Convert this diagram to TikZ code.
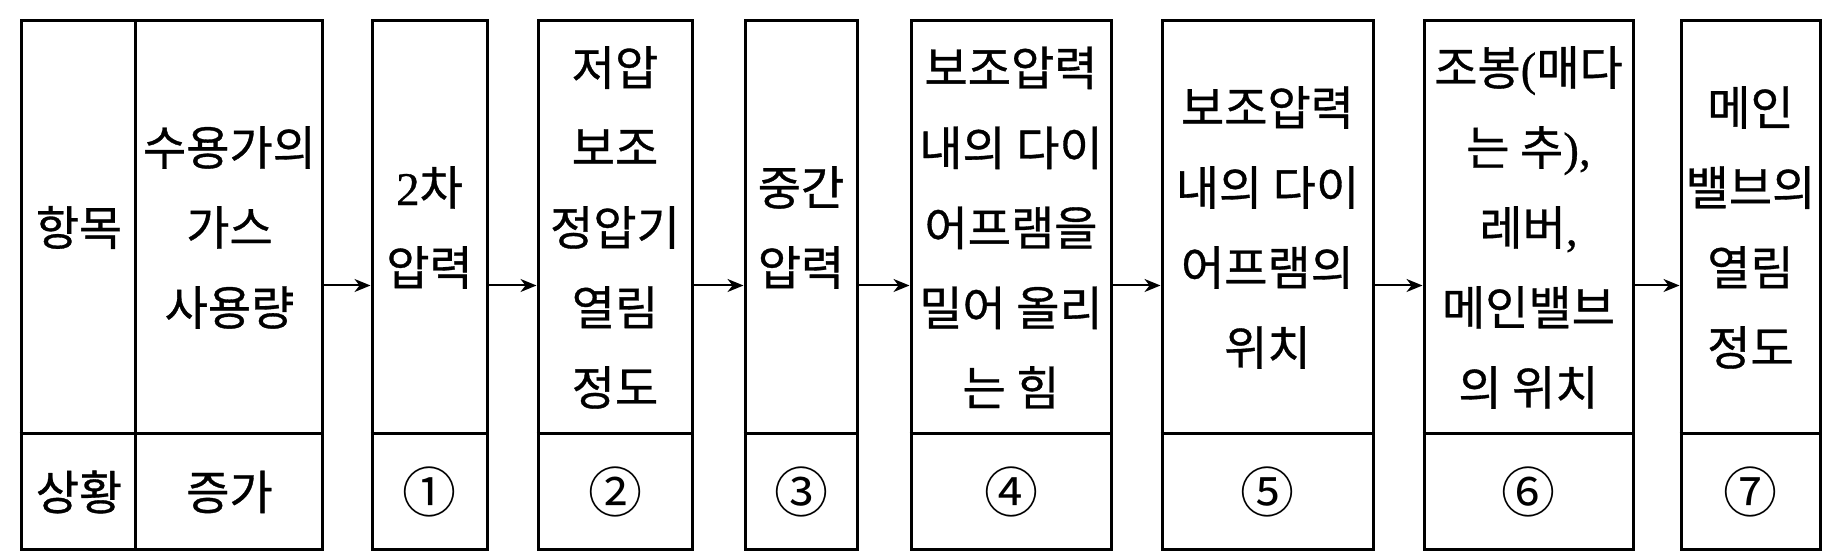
\documentclass[tikz,border=0pt]{standalone}
\usepackage{fontspec}
\setmainfont{Noto Sans CJK KR}[FakeBold=0.7]
\newfontfamily\latn{Liberation Serif}[FakeBold=0.7]
\newfontfamily\numfont{Noto Sans CJK KR}
\usepackage{tikz}
\usetikzlibrary{arrows.meta,positioning,calc}

\begin{document}
\begin{tikzpicture}[x=0.5pt, y=-0.5pt,
    col/.style={draw, line width=1.5pt, minimum height=264.5pt, inner sep=0pt},
    rule/.style={line width=1.5pt},
    txt/.style={font=\fontsize{23.5}{40}\selectfont, align=center, inner sep=0pt},
    num/.style={font=\numfont\fontsize{27}{30}\selectfont, inner sep=0pt},
    flow/.style={line width=1pt, -{Stealth[length=8pt, width=6.5pt, inset=2.5pt]}}]
    \useasboundingbox (0,0) rectangle (1836,560);

    % Table head - 항목 / 상황
    \node[col, minimum width=150.5pt] (c0) at (171.5,285.5) {};
    \draw[rule] (c0.north west) ++(116,0) -- ++(0,529);
    \draw[rule] (c0.west |- 0,434) -- (c0.east |- 0,434);
    \node[txt] (h0) at (79,227.5) {항목};
    \node[txt] (s0) at (79,492) {상황};
    \node[txt] (t0) at (229.5,227.5) {수용가의\\가스\\사용량};
    \node[txt] (n0) at (229.5,492) {증가};

    % Step 1
    \node[col, minimum width=57.5pt] (c1) at (429.5,285.5) {};
    \draw[rule] (c1.west |- 0,434) -- (c1.east |- 0,434);
    \node[txt] (t1) at (429.5,227.5) {{\latn 2}차\\압력};
    \node[num] (n1) at (429.5,492) {①};

    % Step 2
    \node[col, minimum width=77pt] (c2) at (615,285.5) {};
    \draw[rule] (c2.west |- 0,434) -- (c2.east |- 0,434);
    \node[txt] (t2) at (615,227.5) {저압\\보조\\정압기\\열림\\정도};
    \node[num] (n2) at (615,492) {②};

    % Step 3
    \node[col, minimum width=56pt] (c3) at (801,285.5) {};
    \draw[rule] (c3.west |- 0,434) -- (c3.east |- 0,434);
    \node[txt] (t3) at (801,227.5) {중간\\압력};
    \node[num] (n3) at (801,492) {③};

    % Step 4
    \node[col, minimum width=100pt] (c4) at (1011,285.5) {};
    \draw[rule] (c4.west |- 0,434) -- (c4.east |- 0,434);
    \node[txt] (t4) at (1011,227.5) {보조압력\\내의 다이\\어프램을\\밀어 올리\\는 힘};
    \node[num] (n4) at (1011,492) {④};

    % Step 5
    \node[col, minimum width=105.5pt] (c5) at (1267.5,285.5) {};
    \draw[rule] (c5.west |- 0,434) -- (c5.east |- 0,434);
    \node[txt] (t5) at (1267.5,227.5) {보조압력\\내의 다이\\어프램의\\위치};
    \node[num] (n5) at (1267.5,492) {⑤};

    % Step 6
    \node[col, minimum width=104.5pt] (c6) at (1528.5,285.5) {};
    \draw[rule] (c6.west |- 0,434) -- (c6.east |- 0,434);
    \node[txt] (t6) at (1528.5,227.5) {조봉{\latn (}매다\\는 추{\latn ),}\\레버{\latn ,}\\메인밸브\\의 위치};
    \node[num] (n6) at (1528.5,492) {⑥};

    % Step 7
    \node[col, minimum width=69.5pt] (c7) at (1750.5,285.5) {};
    \draw[rule] (c7.west |- 0,434) -- (c7.east |- 0,434);
    \node[txt] (t7) at (1750.5,227.5) {메인\\밸브의\\열림\\정도};
    \node[num] (n7) at (1750.5,492) {⑦};

    % Arrows
    \draw[flow] (c0.east) -- (c1.west);
    \draw[flow] (c1.east) -- (c2.west);
    \draw[flow] (c2.east) -- (c3.west);
    \draw[flow] (c3.east) -- (c4.west);
    \draw[flow] (c4.east) -- (c5.west);
    \draw[flow] (c5.east) -- (c6.west);
    \draw[flow] (c6.east) -- (c7.west);
\end{tikzpicture}
\end{document}
